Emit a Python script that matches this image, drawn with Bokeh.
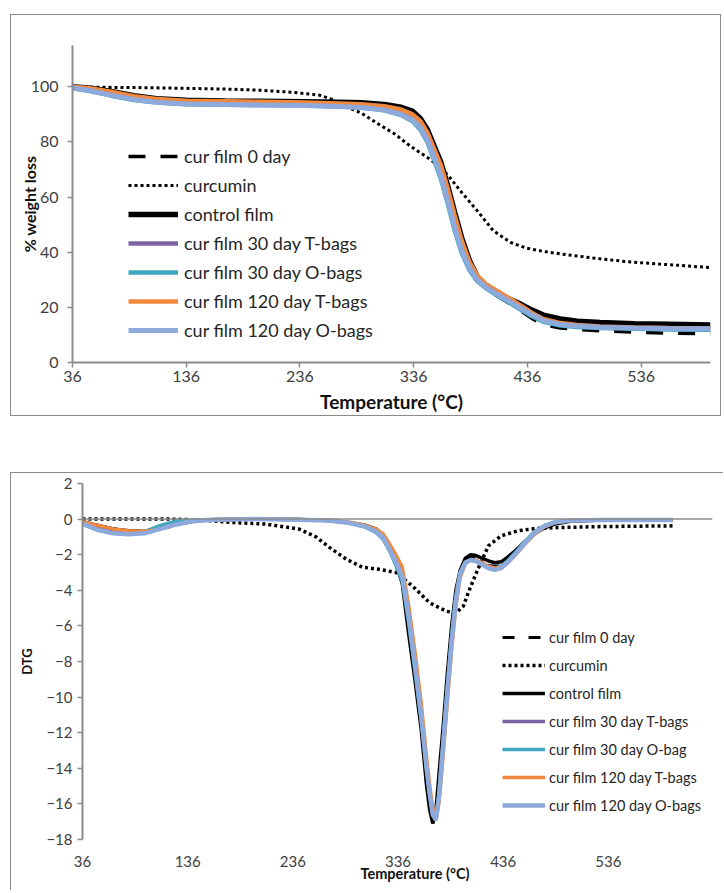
from bokeh.plotting import figure
from bokeh.models import (Legend, LegendItem, FixedTicker, Range1d, Span, Title, Spacer)
from bokeh.layouts import column, row
from bokeh.embed import file_html
from bokeh.resources import INLINE

FONT = "Lato"

# ---------------- data: TGA (top chart) ----------------
x_ticks = [36, 136, 236, 336, 436, 536]
tga_y_ticks = [0, 20, 40, 60, 80, 100]
dtg_y_ticks = [-18, -16, -14, -12, -10, -8, -6, -4, -2, 0, 2]

tga_temp = [36, 50, 70, 90, 110, 136, 170, 200, 240, 270, 290, 310, 325, 335, 342,
            348, 354, 360, 366, 372, 378, 385, 392, 400, 410, 420, 430, 440, 450,
            465, 480, 500, 530, 560, 597]
tga_cur0 = [100, 99.4, 97.8, 96.2, 95.2, 94.7, 94.5, 94.4, 94.1, 93.8, 93.5, 92.7, 91.3,
            89.5, 86.5, 82, 76, 69.5, 60.5, 51, 42.5, 35, 30, 26.8, 24, 21.5, 18.8, 16,
            13.8, 12.5, 12, 11.5, 11, 10.7, 10.4]
tga_control = [100, 99.6, 98.3, 96.8, 95.7, 95.1, 94.9, 94.8, 94.6, 94.4, 94.2, 93.6,
               92.6, 91.2, 88.4, 84.5, 78.5, 72.5, 64, 54.5, 45.5, 37, 31, 27.3, 24.8,
               23, 21.2, 19, 17.2, 15.8, 15, 14.5, 14.1, 13.9, 13.6]
tga_30t = [99.8, 99.3, 97.7, 96, 95, 94.4, 94.2, 94.1, 93.8, 93.5, 93.2, 92.3, 90.8,
           88.8, 85.8, 81.5, 75.5, 69, 60, 50.5, 42, 35, 30.5, 27.5, 25, 22.5, 20, 17.5,
           15.3, 13.8, 13.2, 12.8, 12.4, 12.2, 12]
tga_30o = [99.5, 98.6, 96.8, 95.2, 94.3, 93.7, 93.5, 93.4, 93.2, 92.9, 92.5, 91.5, 89.8,
           87.5, 84.5, 80, 73.5, 66.5, 57.5, 48, 40, 33.5, 29.5, 26.8, 24.2, 21.7, 19.2,
           16.8, 14.8, 13.4, 12.9, 12.5, 12.2, 12, 11.9]
tga_120t = [100, 99.6, 98.2, 96.6, 95.6, 95, 94.8, 94.6, 94.3, 94, 93.7, 93, 91.8, 90,
            87.5, 83.5, 77.5, 71.5, 63, 53.5, 44.5, 36.5, 31.5, 28.3, 25.8, 23.3, 20.7,
            18, 15.8, 14.3, 13.6, 13.1, 12.7, 12.5, 12.3]
tga_120o = [99.6, 98.8, 97, 95.4, 94.4, 93.8, 93.6, 93.4, 93.2, 92.9, 92.5, 91.6, 90, 88,
            85.2, 80.8, 74.5, 67.5, 58.5, 49.2, 41, 34.3, 30, 27.2, 24.6, 22.2, 19.7,
            17.3, 15.2, 13.8, 13.2, 12.8, 12.5, 12.3, 12.2]
tga_curc_temp = [36, 70, 100, 130, 170, 200, 230, 253, 264, 275, 290, 305, 319, 333, 348,
                 360, 368, 377, 392, 406, 421, 435, 450, 465, 494, 523, 552, 575, 597]
tga_curcumin = [100, 99.8, 99.7, 99.5, 99.2, 98.8, 98, 97, 95.5, 93, 90.5, 86.5, 83, 78.5,
                74.4, 70.8, 67, 62.3, 55, 47.8, 43.6, 41.5, 40.3, 39.4, 37.9, 36.6, 35.7,
                35.1, 34.4]

# ---------------- data: DTG (bottom chart) ----------------
dtg_temp = [36, 50, 65, 80, 95, 110, 125, 140, 160, 200, 240, 270, 290, 305, 315, 322,
            328, 334, 340, 346, 352, 358, 363, 366, 369, 372, 375, 379, 383, 387, 391,
            395, 400, 405, 410, 416, 422, 428, 434, 440, 448, 456, 465, 475, 485, 500,
            530, 560, 597]
dtg_cur0 = [-0.15, -0.35, -0.55, -0.65, -0.7, -0.55, -0.35, -0.15, -0.05, 0, -0.02, -0.07,
            -0.2, -0.4, -0.62, -1.0, -1.6, -2.4, -3.3, -5.8, -8.6, -11.5, -14.5, -16.0,
            -16.9, -16.7, -14.9, -12.0, -9.0, -6.3, -4.2, -2.95, -2.3, -2.15, -2.2, -2.4,
            -2.6, -2.65, -2.6, -2.3, -1.85, -1.35, -0.85, -0.45, -0.2, -0.08, -0.05,
            -0.05, -0.05]
dtg_control = [-0.15, -0.35, -0.55, -0.65, -0.7, -0.5, -0.25, -0.1, -0.03, 0, -0.02,
               -0.08, -0.2, -0.35, -0.55, -0.9, -1.5, -2.5, -3.6, -6.4, -9.0, -11.8,
               -14.9, -16.3, -17.1, -16.4, -14.3, -11.6, -8.6, -6.0, -4.0, -2.9, -2.2,
               -2.0, -2.05, -2.2, -2.35, -2.45, -2.4, -2.15, -1.75, -1.3, -0.85, -0.5,
               -0.28, -0.12, -0.05, -0.04, -0.05]
dtg_30t = [-0.2, -0.45, -0.65, -0.75, -0.75, -0.5, -0.25, -0.1, -0.03, 0, -0.02, -0.07,
           -0.2, -0.4, -0.65, -1.0, -1.6, -2.3, -3.0, -5.3, -8.0, -10.9, -13.8, -15.3,
           -16.5, -16.9, -15.5, -12.6, -9.6, -6.8, -4.5, -3.1, -2.45, -2.3, -2.35, -2.55,
           -2.75, -2.8, -2.7, -2.4, -1.9, -1.35, -0.8, -0.4, -0.18, -0.08, -0.05, -0.05,
           -0.05]
dtg_30o = [-0.3, -0.6, -0.8, -0.85, -0.7, -0.35, -0.12, -0.05, -0.02, 0, -0.02, -0.07,
           -0.22, -0.45, -0.75, -1.15, -1.8, -2.6, -3.5, -5.8, -8.5, -11.3, -14.0, -15.4,
           -16.5, -16.8, -15.3, -12.3, -9.3, -6.5, -4.3, -3.0, -2.4, -2.3, -2.35, -2.55,
           -2.7, -2.75, -2.65, -2.35, -1.85, -1.3, -0.75, -0.37, -0.16, -0.07, -0.04,
           -0.04, -0.04]
dtg_120t = [-0.15, -0.35, -0.55, -0.65, -0.7, -0.55, -0.3, -0.12, -0.04, 0, -0.02, -0.06,
            -0.18, -0.35, -0.55, -0.85, -1.4, -2.0, -2.7, -4.8, -7.4, -10.3, -13.3, -14.9,
            -16.2, -16.9, -15.9, -13.2, -10.2, -7.3, -4.9, -3.3, -2.5, -2.3, -2.3, -2.45,
            -2.65, -2.75, -2.7, -2.45, -2.0, -1.45, -0.9, -0.45, -0.2, -0.08, -0.05,
            -0.05, -0.05]
dtg_120o = [-0.25, -0.6, -0.8, -0.85, -0.8, -0.55, -0.3, -0.12, -0.04, 0, -0.03, -0.08,
            -0.22, -0.42, -0.7, -1.05, -1.7, -2.4, -3.2, -5.4, -8.1, -11.0, -13.9, -15.4,
            -16.6, -16.9, -15.6, -12.7, -9.7, -6.9, -4.6, -3.1, -2.45, -2.3, -2.35, -2.55,
            -2.75, -2.85, -2.75, -2.45, -1.95, -1.4, -0.82, -0.4, -0.18, -0.08, -0.05,
            -0.05, -0.05]
dtg_curc_temp = [36, 80, 120, 150, 179, 210, 242, 258, 271, 287, 302, 318, 334, 350, 366,
                 382, 391, 398, 404, 412, 422, 434, 450, 466, 491, 530, 560, 597]
dtg_curcumin = [0, 0, 0, -0.05, -0.19, -0.28, -0.56, -1.0, -1.6, -2.26, -2.7, -2.82, -3.0,
                -3.77, -4.7, -5.18, -5.27, -4.9, -3.95, -2.8, -1.5, -0.94, -0.66, -0.53,
                -0.47, -0.42, -0.4, -0.38]

tga_labels = ["cur film 0 day", "curcumin", "control film", "cur film 30 day T-bags",
              "cur film 30 day O-bags", "cur film 120 day T-bags", "cur film 120 day O-bags"]
dtg_labels = ["cur film 0 day", "curcumin", "control film", "cur film 30 day T-bags",
              "cur film 30 day O-bag", "cur film 120 day T-bags", "cur film 120 day O-bags"]

BLACK = "#000000"
PURPLE = "#7E62A3"
TEAL = "#3FA6C0"
ORANGE = "#F0883E"
LIGHTBLUE = "#8EA9DB"
AXIS = "#8C8C8C"
TICKTXT = "#404040"


def style_common(p):
    p.xgrid.visible = False
    p.ygrid.visible = False
    p.outline_line_color = None
    p.background_fill_color = "white"
    p.border_fill_color = "white"
    for ax in (p.xaxis[0], p.yaxis[0]):
        ax.axis_line_color = AXIS
        ax.axis_line_width = 2
        ax.major_tick_line_color = AXIS
        ax.major_tick_line_width = 1.5
        ax.major_tick_in = 0
        ax.major_tick_out = 5
        ax.minor_tick_line_color = None
        ax.major_label_text_font = FONT
        ax.major_label_text_color = TICKTXT
        ax.axis_label_text_font = FONT
        ax.axis_label_text_font_style = "bold"
        ax.axis_label_text_color = "#111111"


# ---------------- top chart ----------------
p1 = figure(width=711, height=402, x_range=Range1d(36, 597), y_range=Range1d(0, 115),
            output_backend="svg", toolbar_location=None,
            min_border_left=61, min_border_right=12, min_border_top=30, min_border_bottom=55)
style_common(p1)
p1.styles = {"border": "1px solid #8a8a8a"}
p1.xaxis.ticker = FixedTicker(ticks=x_ticks)
p1.yaxis.ticker = FixedTicker(ticks=tga_y_ticks)
p1.xaxis.major_label_text_font_size = "16px"
p1.yaxis.major_label_text_font_size = "16px"
p1.xaxis.major_label_standoff = 3
p1.yaxis.major_label_standoff = 9
p1.xaxis.axis_label = "Temperature (\u00b0C)"
p1.yaxis.axis_label = "% weight loss"
p1.xaxis.axis_label_text_font_size = "19px"
p1.yaxis.axis_label_text_font_size = "16px"
p1.xaxis.axis_label_standoff = 5
p1.yaxis.axis_label_standoff = -11

r = []
r.append(p1.line(tga_temp, tga_cur0, line_color=BLACK, line_width=3.5, line_dash="17 15"))
r.append(p1.line(tga_curc_temp, tga_curcumin, line_color=BLACK, line_width=3, line_dash="3 3"))
r.append(p1.line(tga_temp, tga_control, line_color=BLACK, line_width=5.5))
r.append(p1.line(tga_temp, tga_30t, line_color=PURPLE, line_width=4.5))
r.append(p1.line(tga_temp, tga_30o, line_color=TEAL, line_width=4.5))
r.append(p1.line(tga_temp, tga_120t, line_color=ORANGE, line_width=4.5))
r.append(p1.line(tga_temp, tga_120o, line_color=LIGHTBLUE, line_width=5))

leg1 = Legend(items=[LegendItem(label=l, renderers=[rr]) for l, rr in zip(tga_labels, r)],
              location=(56, 21), glyph_width=50, glyph_height=20, label_height=20,
              spacing=7, padding=0, margin=0, label_standoff=6,
              background_fill_alpha=0, border_line_color=None,
              label_text_font=FONT, label_text_font_size="18px", label_text_color="#262626")
p1.add_layout(leg1)

# ---------------- bottom chart ----------------
p2 = figure(width=713, height=418, x_range=Range1d(36, 635), y_range=Range1d(-18, 2),
            output_backend="svg", toolbar_location=None,
            min_border_left=71, min_border_right=12, min_border_top=10, min_border_bottom=52)
style_common(p2)
p2.styles = {"border-top": "1px solid #8a8a8a", "border-left": "1px solid #8a8a8a"}
p2.xaxis.ticker = FixedTicker(ticks=x_ticks)
p2.yaxis.ticker = FixedTicker(ticks=dtg_y_ticks)
p2.xaxis.axis_line_color = None
p2.xaxis.major_tick_out = 0
p2.xaxis.major_label_standoff = 16
p2.xaxis.major_label_text_font_size = "15px"
p2.yaxis.major_label_text_font_size = "15px"
p2.yaxis.major_label_standoff = 5
p2.yaxis.axis_label = "DTG"
p2.yaxis.axis_label_text_font_size = "13px"
p2.yaxis.axis_label_standoff = 8

p2.add_layout(Span(location=0, dimension="width", line_color=AXIS, line_width=1.5))

r2 = []
r2.append(p2.line(dtg_temp, dtg_cur0, line_color=BLACK, line_width=3, line_dash="12 14"))
r2.append(p2.line(dtg_curc_temp, dtg_curcumin, line_color=BLACK, line_width=3.5, line_dash="3 3"))
r2.append(p2.line(dtg_temp, dtg_control, line_color=BLACK, line_width=3.5))
r2.append(p2.line(dtg_temp, dtg_30t, line_color=PURPLE, line_width=3.5))
r2.append(p2.line(dtg_temp, dtg_30o, line_color=TEAL, line_width=3.5))
r2.append(p2.line(dtg_temp, dtg_120t, line_color=ORANGE, line_width=3.5))
r2.append(p2.line(dtg_temp, dtg_120o, line_color=LIGHTBLUE, line_width=4.5))

leg2 = Legend(items=[LegendItem(label=l, renderers=[rr]) for l, rr in zip(dtg_labels, r2)],
              location=(420, 25), glyph_width=43, glyph_height=18, label_height=18,
              spacing=10, padding=0, margin=0, label_standoff=4,
              background_fill_alpha=0, border_line_color=None,
              label_text_font=FONT, label_text_font_size="14.5px", label_text_color="#262626")
p2.add_layout(leg2)

# x-axis title of the DTG chart (sits right of centre in the original)
p2.add_layout(Title(text="Temperature (\u00b0C)", align="left", offset=278,
                    vertical_align="top", standoff=-9,
                    text_font=FONT, text_font_size="14.5px", text_font_style="bold",
                    text_color="#111111"), "below")

layout = column(
    Spacer(height=14),
    row(Spacer(width=10), p1),
    Spacer(height=56),
    row(Spacer(width=10), p2),
)

open("out.html", "w").write(file_html(layout, INLINE))
